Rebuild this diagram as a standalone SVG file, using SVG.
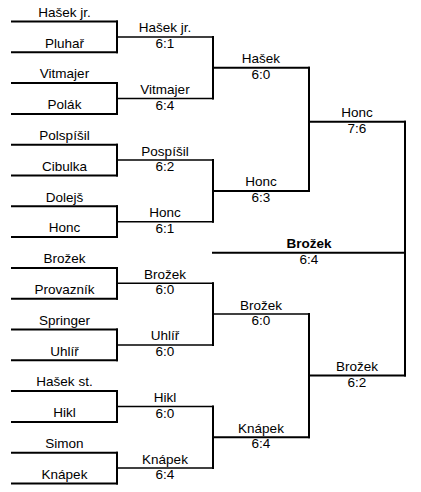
<svg xmlns="http://www.w3.org/2000/svg" width="421" height="492" viewBox="0 0 421 492">
<style>
text{font-family:"Liberation Sans",Arial,sans-serif;font-size:13.5px;fill:#000;text-anchor:middle}
.b{font-weight:bold}
line{stroke:#000;stroke-width:2;stroke-linecap:square}
.t{stroke-width:1.5}
</style>
<rect width="421" height="492" fill="#fff"/>
<g id="connectors">
<line x1="117" y1="21.5" x2="117" y2="52.3"/>
<line x1="117" y1="83.1" x2="117" y2="113.9"/>
<line x1="117" y1="144.7" x2="117" y2="175.5"/>
<line x1="117" y1="206.3" x2="117" y2="237.1"/>
<line x1="117" y1="267.9" x2="117" y2="298.7"/>
<line x1="117" y1="329.5" x2="117" y2="360.3"/>
<line x1="117" y1="391.1" x2="117" y2="421.9"/>
<line x1="117" y1="452.7" x2="117" y2="483.5"/>
<line x1="213" y1="36.9" x2="213" y2="98.5"/>
<line x1="213" y1="160.1" x2="213" y2="221.7"/>
<line x1="213" y1="283.3" x2="213" y2="344.9"/>
<line x1="213" y1="406.5" x2="213" y2="468.1"/>
<line x1="309" y1="67.7" x2="309" y2="190.9"/>
<line x1="309" y1="314.1" x2="309" y2="437.3"/>
<line x1="405" y1="121.7" x2="405" y2="375.5"/>
</g>
<g id="r1-hasekjr"><line x1="12" y1="21.5" x2="117" y2="21.5"/><text x="64.5" y="16.8">Hašek jr.</text></g>
<g id="r1-pluhar"><line x1="12" y1="52.3" x2="117" y2="52.3"/><text x="64.5" y="47.6">Pluhař</text></g>
<g id="r1-vitmajer"><line x1="12" y1="83.1" x2="117" y2="83.1"/><text x="64.5" y="78.4">Vitmajer</text></g>
<g id="r1-polak"><line x1="12" y1="113.9" x2="117" y2="113.9"/><text x="64.5" y="109.2">Polák</text></g>
<g id="r1-polspisil"><line x1="12" y1="144.7" x2="117" y2="144.7"/><text x="64.5" y="140">Polspíšil</text></g>
<g id="r1-cibulka"><line x1="12" y1="175.5" x2="117" y2="175.5"/><text x="64.5" y="170.8">Cibulka</text></g>
<g id="r1-dolejs"><line x1="12" y1="206.3" x2="117" y2="206.3"/><text x="64.5" y="201.6">Dolejš</text></g>
<g id="r1-honc"><line x1="12" y1="237.1" x2="117" y2="237.1"/><text x="64.5" y="232.4">Honc</text></g>
<g id="r1-brozek"><line x1="12" y1="267.9" x2="117" y2="267.9"/><text x="64.5" y="263.2">Brožek</text></g>
<g id="r1-provaznik"><line x1="12" y1="298.7" x2="117" y2="298.7"/><text x="64.5" y="294">Provazník</text></g>
<g id="r1-springer"><line x1="12" y1="329.5" x2="117" y2="329.5"/><text x="64.5" y="324.8">Springer</text></g>
<g id="r1-uhlir"><line x1="12" y1="360.3" x2="117" y2="360.3"/><text x="64.5" y="355.6">Uhlíř</text></g>
<g id="r1-hasekst"><line x1="12" y1="391.1" x2="117" y2="391.1"/><text x="64.5" y="386.4">Hašek st.</text></g>
<g id="r1-hikl"><line x1="12" y1="421.9" x2="117" y2="421.9"/><text x="64.5" y="417.2">Hikl</text></g>
<g id="r1-simon"><line x1="12" y1="452.7" x2="117" y2="452.7"/><text x="64.5" y="448">Simon</text></g>
<g id="r1-knapek"><line x1="12" y1="483.5" x2="117" y2="483.5"/><text x="64.5" y="478.8">Knápek</text></g>
<g id="r2-hasekjr"><line class="t" x1="117" y1="36.9" x2="213" y2="36.9"/><text x="165" y="32.4">Hašek jr.</text><text x="165" y="47.9">6:1</text></g>
<g id="r2-vitmajer"><line class="t" x1="117" y1="98.5" x2="213" y2="98.5"/><text x="165" y="94">Vitmajer</text><text x="165" y="109.5">6:4</text></g>
<g id="r2-pospisil"><line class="t" x1="117" y1="160.1" x2="213" y2="160.1"/><text x="165" y="155.6">Pospíšil</text><text x="165" y="171.1">6:2</text></g>
<g id="r2-honc"><line class="t" x1="117" y1="221.7" x2="213" y2="221.7"/><text x="165" y="217.2">Honc</text><text x="165" y="232.7">6:1</text></g>
<g id="r2-brozek"><line class="t" x1="117" y1="283.3" x2="213" y2="283.3"/><text x="165" y="278.8">Brožek</text><text x="165" y="294.3">6:0</text></g>
<g id="r2-uhlir"><line class="t" x1="117" y1="344.9" x2="213" y2="344.9"/><text x="165" y="340.4">Uhlíř</text><text x="165" y="355.9">6:0</text></g>
<g id="r2-hikl"><line class="t" x1="117" y1="406.5" x2="213" y2="406.5"/><text x="165" y="402">Hikl</text><text x="165" y="417.5">6:0</text></g>
<g id="r2-knapek"><line class="t" x1="117" y1="468.1" x2="213" y2="468.1"/><text x="165" y="463.6">Knápek</text><text x="165" y="479.1">6:4</text></g>
<g id="r3-hasek"><line x1="213" y1="67.7" x2="309" y2="67.7"/><text x="261" y="63.2">Hašek</text><text x="261" y="78.8">6:0</text></g>
<g id="r3-honc"><line x1="213" y1="190.9" x2="309" y2="190.9"/><text x="261" y="186.4">Honc</text><text x="261" y="202">6:3</text></g>
<g id="r3-brozek"><line class="t" x1="213" y1="314.1" x2="309" y2="314.1"/><text x="261" y="309.6">Brožek</text><text x="261" y="325.2">6:0</text></g>
<g id="r3-knapek"><line x1="213" y1="437.3" x2="309" y2="437.3"/><text x="261" y="432.8">Knápek</text><text x="261" y="448.4">6:4</text></g>
<g id="r4-honc"><line x1="309" y1="121.7" x2="405" y2="121.7"/><text x="357" y="117.2">Honc</text><text x="357" y="132.8">7:6</text></g>
<g id="r4-brozek"><line x1="309" y1="375.5" x2="405" y2="375.5"/><text x="357" y="371">Brožek</text><text x="357" y="386.6">6:2</text></g>
<g id="final-brozek"><line x1="213" y1="252.7" x2="405" y2="252.7"/><text class="b" x="309" y="248.2">Brožek</text><text x="309" y="263.6">6:4</text></g>
</svg>
